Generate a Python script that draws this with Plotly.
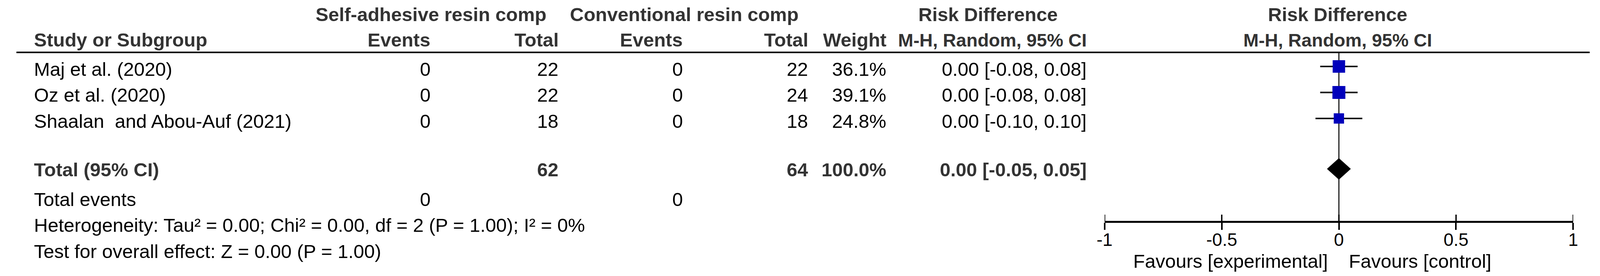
import math
import plotly.graph_objects as go

# ---- data ----
studies = ["Maj et al. (2020)", "Oz et al. (2020)", "Shaalan  and Abou-Auf (2021)"]
exp_events = [0, 0, 0]
exp_total = [22, 22, 18]
ctrl_events = [0, 0, 0]
ctrl_total = [22, 24, 18]
weights = [36.1, 39.1, 24.8]
risk_diff = [0.00, 0.00, 0.00]
ci_low = [-0.08, -0.08, -0.10]
ci_high = [0.08, 0.08, 0.10]

pooled_rd = 0.00
pooled_low = -0.05
pooled_high = 0.05

tick_vals = [-1, -0.5, 0, 0.5, 1]
tick_text = ["-1", "-0.5", "0", "0.5", "1"]

heterogeneity = "Heterogeneity: Tau² = 0.00; Chi² = 0.00, df = 2 (P = 1.00); I² = 0%"
overall_test = "Test for overall effect: Z = 0.00 (P = 1.00)"

# ---- layout helpers ----
W, H = 4237, 706          # reference size; x positions are kept as fractions of W
FONT = "Liberation Sans, Arial, sans-serif"
FS = 49
TXT = "#000000"
BOLD_TXT = "#333333"

# y axis is in "row" units: row 0 = first study, one row = 66.5 px
ROW0_PX, ROW_PX = 170, 66.5
R_HEAD1, R_HEAD2, R_LINE = -2.0, -1.02, -0.541
TEXT_DROP = 0.105          # study text sits a little under the square centre
R_TOTAL_TXT, R_DIAMOND = 3.97, 3.94
R_EVENTS, R_HET, R_TEST = 5.11, 6.105, 7.11
R_AXIS, R_FAVOURS = 5.97, 7.49

# column anchors in pixels of the reference
COL_STUDY = 68
COL_EV1, COL_TOT1 = 1130, 1472
COL_EV2, COL_TOT2 = 1804, 2139
COL_WEIGHT, COL_CI = 2347, 2882
PLOT_LEFT, PLOT_RIGHT = 2928, 4179


def px(x):
    return x / W


def add_text(fig, x, r, text, anchor="right", bold=False, xref="paper", xshift=0, size=FS):
    """Put one text cell of the table onto the figure."""
    fig.add_annotation(
        x=px(x) if xref == "paper" else x, y=r, xref=xref, yref="y",
        text="<b>%s</b>" % text if bold else text,
        xanchor=anchor, yanchor="middle", showarrow=False, xshift=xshift,
        font=dict(family=FONT, size=size, color=BOLD_TXT if bold else TXT))


fig = go.Figure()

# confidence interval whiskers
for i in range(len(studies)):
    fig.add_trace(go.Scatter(x=[ci_low[i], ci_high[i]], y=[i, i], mode="lines",
                             line=dict(color="#1a1a1a", width=4),
                             hoverinfo="skip", showlegend=False))

# study squares, area proportional to weight
fig.add_trace(go.Scatter(
    x=risk_diff, y=list(range(len(studies))), mode="markers",
    marker=dict(symbol="square", color="#0000BB", opacity=1, line=dict(width=0),
                size=[5.3 * math.sqrt(w) for w in weights]),
    hoverinfo="skip", showlegend=False))

# pooled diamond
dh = 27 / ROW_PX
fig.add_trace(go.Scatter(
    x=[pooled_low, pooled_rd, pooled_high, pooled_rd, pooled_low],
    y=[R_DIAMOND, R_DIAMOND - dh, R_DIAMOND, R_DIAMOND + dh, R_DIAMOND],
    mode="lines", fill="toself", fillcolor="black",
    line=dict(color="black", width=1), hoverinfo="skip", showlegend=False))

# header rows
plot_mid = (PLOT_LEFT + PLOT_RIGHT) / 2 - 3
add_text(fig, 1130, R_HEAD1, "Self-adhesive resin comp", anchor="center", bold=True)
add_text(fig, 1806, R_HEAD1, "Conventional resin comp", anchor="center", bold=True)
add_text(fig, 2617, R_HEAD1, "Risk Difference", anchor="center", bold=True)
add_text(fig, plot_mid, R_HEAD1, "Risk Difference", anchor="center", bold=True)
add_text(fig, COL_STUDY, R_HEAD2, "Study or Subgroup", anchor="left", bold=True)
add_text(fig, COL_EV1, R_HEAD2, "Events", bold=True)
add_text(fig, COL_TOT1, R_HEAD2, "Total", bold=True)
add_text(fig, COL_EV2, R_HEAD2, "Events", bold=True)
add_text(fig, COL_TOT2, R_HEAD2, "Total", bold=True)
add_text(fig, COL_WEIGHT, R_HEAD2, "Weight", bold=True)
add_text(fig, COL_CI, R_HEAD2, "M-H, Random, 95% CI", bold=True, size=47)
add_text(fig, plot_mid, R_HEAD2, "M-H, Random, 95% CI", anchor="center", bold=True, size=47)

# study rows
for i, name in enumerate(studies):
    r = i + TEXT_DROP
    add_text(fig, COL_STUDY, r, name, anchor="left")
    add_text(fig, COL_EV1, r, str(exp_events[i]))
    add_text(fig, COL_TOT1, r, str(exp_total[i]))
    add_text(fig, COL_EV2, r, str(ctrl_events[i]))
    add_text(fig, COL_TOT2, r, str(ctrl_total[i]))
    add_text(fig, COL_WEIGHT, r, "%.1f%%" % weights[i])
    add_text(fig, COL_CI, r, "%.2f [%.2f, %.2f]" % (risk_diff[i], ci_low[i], ci_high[i]))

# totals
add_text(fig, COL_STUDY, R_TOTAL_TXT, "Total (95% CI)", anchor="left", bold=True)
add_text(fig, COL_TOT1, R_TOTAL_TXT, str(sum(exp_total)), bold=True)
add_text(fig, COL_TOT2, R_TOTAL_TXT, str(sum(ctrl_total)), bold=True)
add_text(fig, COL_WEIGHT, R_TOTAL_TXT, "%.1f%%" % sum(weights), bold=True)
add_text(fig, COL_CI, R_TOTAL_TXT, "%.2f [%.2f, %.2f]" % (pooled_rd, pooled_low, pooled_high), bold=True)
add_text(fig, COL_STUDY, R_EVENTS, "Total events", anchor="left")
add_text(fig, COL_EV1, R_EVENTS, str(sum(exp_events)))
add_text(fig, COL_EV2, R_EVENTS, str(sum(ctrl_events)))
add_text(fig, COL_STUDY, R_HET, heterogeneity, anchor="left")
add_text(fig, COL_STUDY, R_TEST, overall_test, anchor="left")

# favours labels under the axis
add_text(fig, 0, R_FAVOURS, "Favours [experimental]", anchor="right", xref="x", xshift=-27)
add_text(fig, 0, R_FAVOURS, "Favours [control]", anchor="left", xref="x", xshift=23)

# header rule and line of no effect
fig.add_shape(type="line", xref="paper", yref="y", x0=px(23), x1=px(4223),
              y0=R_LINE, y1=R_LINE, line=dict(color="black", width=4))
fig.add_shape(type="line", xref="x", yref="y", x0=0, x1=0, y0=R_LINE, y1=R_AXIS,
              line=dict(color="#222222", width=3), layer="below")
# upper half of the tick marks (ticks cross the axis line)
for v in tick_vals:
    fig.add_shape(type="line", xref="x", yref="y", x0=v, x1=v,
                  y0=R_AXIS, y1=R_AXIS - 18 / ROW_PX,
                  line=dict(color="black", width=3.5))

axis_pos = 1 - (ROW0_PX + ROW_PX * R_AXIS) / H
fig.update_layout(
    autosize=True, height=H,
    margin=dict(l=0, r=0, t=0, b=0),
    paper_bgcolor="white", plot_bgcolor="white",
    showlegend=False,
    xaxis=dict(domain=[px(PLOT_LEFT), px(PLOT_RIGHT)], range=[-1, 1], anchor="free",
               position=axis_pos, showline=True, linecolor="black", linewidth=5,
               ticks="outside", ticklen=18, tickwidth=3.5, tickcolor="black",
               tickvals=tick_vals, ticktext=tick_text, ticklabelstandoff=-14,
               ticklabeloverflow="allow",
               tickfont=dict(family=FONT, size=46, color=TXT),
               showgrid=False, zeroline=False, fixedrange=True),
    yaxis=dict(domain=[0, 1], range=[(H - ROW0_PX) / ROW_PX, -ROW0_PX / ROW_PX],
               visible=False, showgrid=False, zeroline=False, fixedrange=True),
)

# drop the default body margin and fit the figure to the visible window width
fit_js = (
    "document.body.style.margin='0';"
    "document.body.style.overflow='hidden';"
    "Plotly.relayout('{plot_id}', {width: document.documentElement.clientWidth});"
)
fig.write_html("out.html", default_width="100%", post_script=fit_js,
               config={"displayModeBar": False})
